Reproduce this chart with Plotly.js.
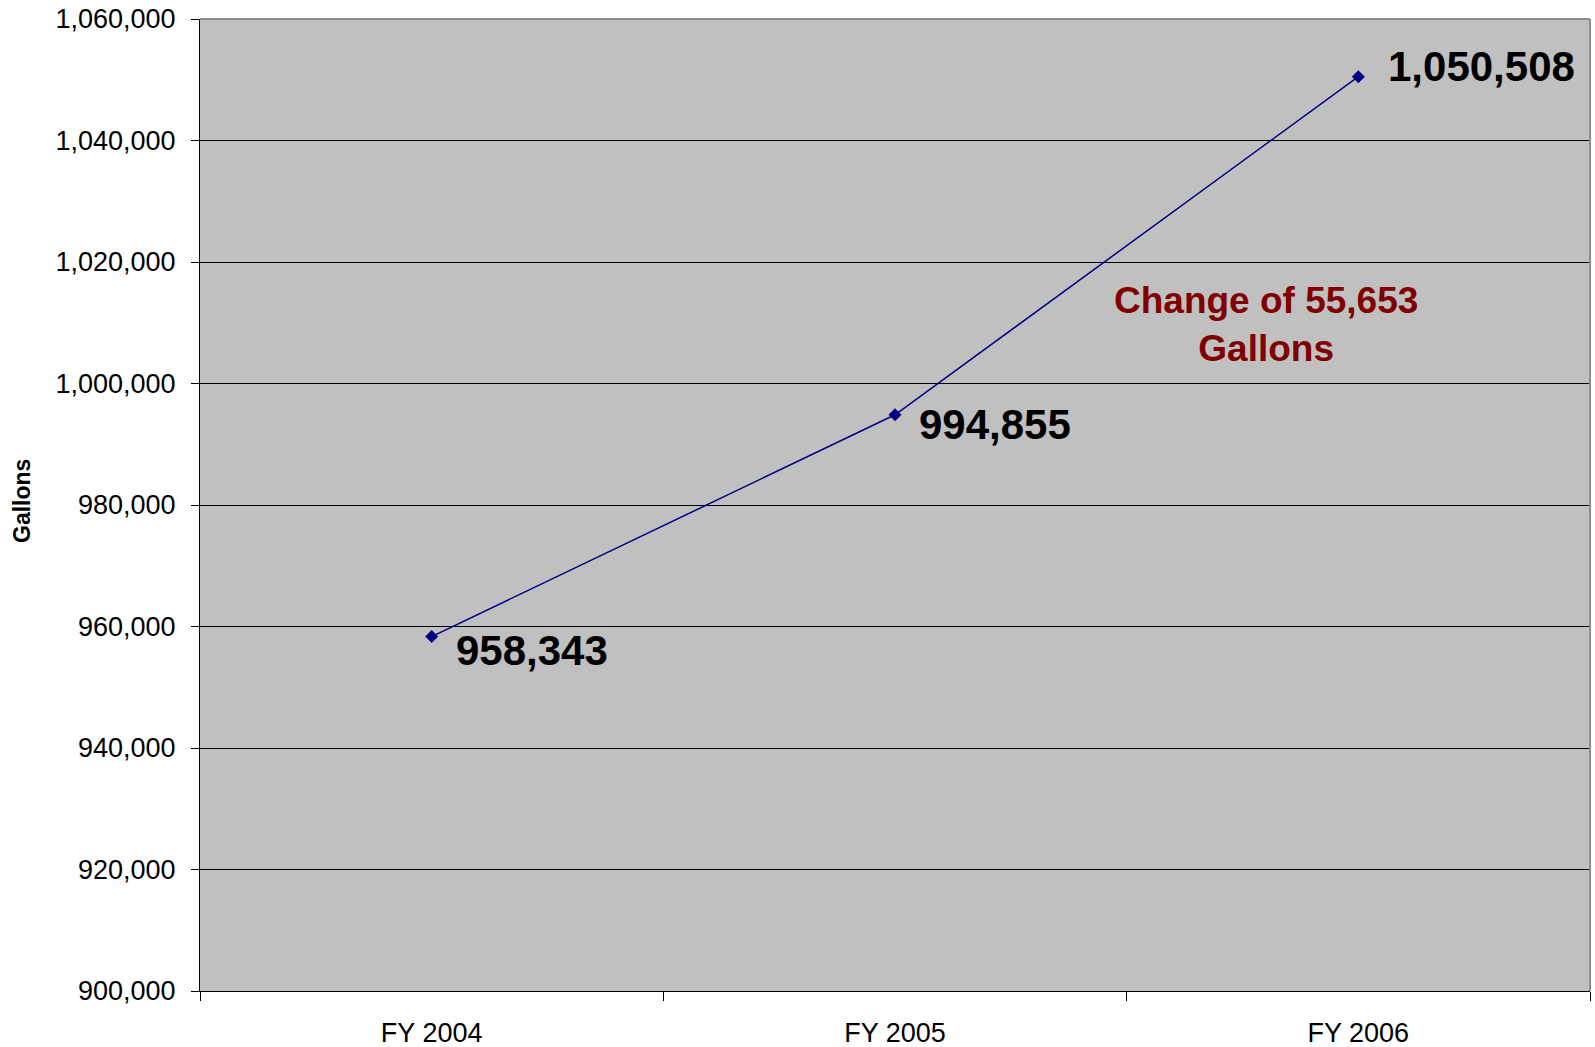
<!DOCTYPE html>
<html>
<head>
<meta charset="utf-8">
<script src="https://cdn.plot.ly/plotly-3.0.1.min.js"></script>
<style>html,body{margin:0;padding:0;background:#fff;}#chart{width:1595px;height:1047px;}</style>
</head>
<body>
<div id="chart"></div>
<script>
const categories = ["FY 2004", "FY 2005", "FY 2006"];
const gallons = [958343, 994855, 1050508];
const valueLabels = ["958,343", "994,855", "1,050,508"];
const labelXShift = [22, 22, 28];
const labelYShift = [-14, -10, 10];
const noteText = "Change of 55,653<br>Gallons";
const yTitle = "Gallons";

const trace = {
  x: categories,
  y: gallons,
  type: "scatter",
  mode: "lines+markers",
  line: {color: "#000080", width: 1.5},
  marker: {symbol: "diamond", size: 10, color: "#000080"},
  hoverinfo: "skip"
};

const annotations = categories.map((c, i) => ({
  x: c, y: gallons[i], xref: "x", yref: "y",
  text: valueLabels[i], showarrow: false,
  xanchor: "left", yanchor: "middle",
  xshift: labelXShift[i], yshift: labelYShift[i],
  font: {family: "Liberation Sans, Arial, sans-serif", size: 42, color: "#000000", weight: "bold"}
}));
annotations.push({
  xref: "paper", yref: "paper",
  x: (1266 - 200) / 1390, y: (991 - 325) / 972,
  text: "<b>" + noteText + "</b>", showarrow: false,
  xanchor: "center", yanchor: "middle", align: "center",
  font: {family: "Liberation Sans, Arial, sans-serif", size: 37, color: "#800000"}
});
annotations.push({
  xref: "paper", yref: "paper",
  x: -(200 - 22) / 1390, y: (991 - 501) / 972,
  text: "<b>" + yTitle + "</b>", showarrow: false, textangle: -90,
  xanchor: "center", yanchor: "middle",
  font: {family: "Liberation Sans, Arial, sans-serif", size: 23, color: "#000000"}
});

const layout = {
  width: 1595, height: 1047,
  margin: {l: 200, r: 5, t: 19, b: 56, pad: 0},
  paper_bgcolor: "#ffffff",
  plot_bgcolor: "#c0c0c0",
  showlegend: false,
  font: {family: "Liberation Sans, Arial, sans-serif", size: 27, color: "#000000"},
  xaxis: {
    type: "category",
    range: [-0.5, 2.5],
    showgrid: false,
    zeroline: false,
    showline: true, linecolor: "#000000", linewidth: 1,
    ticks: "outside", ticklen: 9, tickcolor: "#000000",
    tickson: "boundaries",
    ticklabelstandoff: 18,
    tickfont: {size: 27}
  },
  yaxis: {
    range: [900000, 1060000],
    dtick: 20000,
    tickformat: ",d",
    showgrid: true, gridcolor: "#000000", gridwidth: 1,
    zeroline: false,
    showline: true, linecolor: "#000000", linewidth: 1,
    ticks: "outside", ticklen: 8, tickcolor: "#000000",
    ticklabelstandoff: 10,
    tickfont: {size: 27}
  },
  shapes: [{
    type: "line", xref: "paper", yref: "paper", x0: 0, x1: 1, y0: 1, y1: 1,
    line: {color: "#8c8c8c", width: 2}
  }, {
    type: "line", xref: "paper", yref: "paper", x0: 1, x1: 1, y0: 0, y1: 1,
    line: {color: "#8c8c8c", width: 2}
  }],
  annotations: annotations
};

Plotly.newPlot("chart", [trace], layout, {staticPlot: true, displayModeBar: false});
</script>
</body>
</html>
